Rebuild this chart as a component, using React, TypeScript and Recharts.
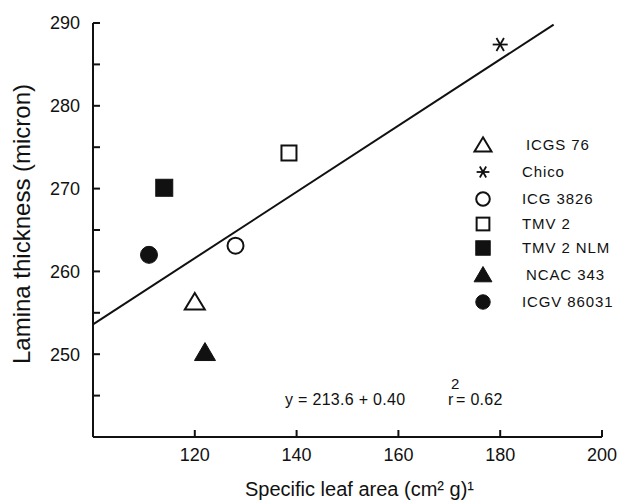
import React from 'react';
import { ScatterChart, Scatter, XAxis, YAxis, ReferenceLine, Legend, Label, Customized } from 'recharts';

const genotypes = ['ICGS 76', 'Chico', 'ICG 3826', 'TMV 2', 'TMV 2 NLM', 'NCAC 343', 'ICGV 86031'];
const specificLeafArea = [120, 180, 128, 138.5, 114, 122, 111];
const laminaThickness = [256.3, 287.4, 263.1, 274.3, 270.1, 250.2, 262];
const markerKinds = ['openTriangle', 'asterisk', 'openCircle', 'openSquare', 'filledSquare', 'filledTriangle', 'filledCircle'];

const xTicks = [120, 140, 160, 180, 200];
const yTicks = [245, 250, 255, 260, 265, 270, 275, 280, 285, 290];
const regressionX = [100, 190.5];
const regressionY = [253.6, 289.8];
const equationText = 'y = 213.6 + 0.40';
const rText = 'r';
const rSup = '2';
const rValueText = '= 0.62';
const xTitle = 'Specific leaf area (cm² g)¹';
const yTitle = 'Lamina thickness (micron)';

const INK = '#111';
const FONT = '"Liberation Sans", Arial, Helvetica, sans-serif';

function Marker({ kind, cx, cy, s = 1 }: { kind: string; cx: number; cy: number; s?: number }) {
  switch (kind) {
    case 'openTriangle':
      return <polygon points={`${cx},${cy - 9 * s} ${cx + 10 * s},${cy + 7.5 * s} ${cx - 10 * s},${cy + 7.5 * s}`} fill="#fff" stroke={INK} strokeWidth={2} />;
    case 'filledTriangle':
      return <polygon points={`${cx},${cy - 10 * s} ${cx + 10.5 * s},${cy + 8 * s} ${cx - 10.5 * s},${cy + 8 * s}`} fill={INK} stroke={INK} strokeWidth={1} />;
    case 'openCircle':
      return <circle cx={cx} cy={cy} r={8 * s} fill="#fff" stroke={INK} strokeWidth={2} />;
    case 'filledCircle':
      return <circle cx={cx} cy={cy} r={8.5 * s} fill={INK} stroke={INK} strokeWidth={1} />;
    case 'openSquare':
      return <rect x={cx - 7.5 * s} y={cy - 7.5 * s} width={15 * s} height={15 * s} fill="#fff" stroke={INK} strokeWidth={2} />;
    case 'filledSquare':
      return <rect x={cx - 8.5 * s} y={cy - 8.5 * s} width={17 * s} height={17 * s} fill={INK} stroke={INK} strokeWidth={1} />;
    case 'asterisk': {
      const r = 7.5 * s;
      const dx = r * 0.5;
      const dy = r * 0.866;
      return (
        <g stroke={INK} strokeWidth={1.8}>
          <line x1={cx - r} y1={cy} x2={cx + r} y2={cy} />
          <line x1={cx - dx} y1={cy - dy} x2={cx + dx} y2={cy + dy} />
          <line x1={cx + dx} y1={cy - dy} x2={cx - dx} y2={cy + dy} />
        </g>
      );
    }
    default:
      return null;
  }
}

const legendRowY = [15, 42, 69, 94, 118, 145, 172];

function LegendBox() {
  return (
    <svg width={156} height={190} style={{ overflow: 'visible' }}>
      {genotypes.map((g, i) => (
        <g key={g}>
          <Marker kind={markerKinds[i]} cx={18} cy={legendRowY[i]} s={0.85} />
          <text x={i === 0 || i === 5 ? 61 : 57} y={legendRowY[i]} dy="0.36em" fontSize={15} fontFamily={FONT} fill={INK} letterSpacing={0.9}>
            {g}
          </text>
        </g>
      ))}
    </svg>
  );
}

function Equation() {
  return (
    <g fontFamily={FONT} fill={INK} fontSize={16}>
      <text x={285} y={405} letterSpacing={0.3}>{equationText}</text>
      <text x={448} y={405}>{rText}</text>
      <text x={451} y={389} fontSize={15}>{rSup}</text>
      <text x={456} y={405} letterSpacing={0.3}>{rValueText}</text>
    </g>
  );
}

const YTick = (props: any) => {
  const v = props.payload.value;
  if (v % 10 !== 0) return <g />;
  return (
    <text x={props.x} y={props.y} dy="0.36em" textAnchor="end" fontSize={18} fontFamily={FONT} fill={INK}>
      {v}
    </text>
  );
};

export default function App() {
  return (
    <div style={{ position: 'absolute', left: 0, top: 0, width: 621, height: 501, background: '#fff' }}>
      <ScatterChart width={621} height={501} margin={{ top: 23, right: 19, bottom: 24, left: 33 }}>
        <XAxis
          type="number"
          dataKey="x"
          domain={[100, 200]}
          ticks={xTicks}
          allowDataOverflow
          axisLine={{ stroke: INK, strokeWidth: 2 }}
          tickLine={{ stroke: INK, strokeWidth: 2 }}
          tickSize={-7}
          tickMargin={18}
          height={40}
          tick={{ fontSize: 18, fill: INK, fontFamily: FONT }}
        >
          <Label
            content={(p: any) => {
              const vb = p.viewBox;
              return (
                <text x={vb.x + vb.width / 2 + 12} y={vb.y + vb.height + 19} textAnchor="middle" fontSize={20} fontFamily={FONT} fill={INK}>
                  {xTitle}
                </text>
              );
            }}
          />
        </XAxis>
        <YAxis
          type="number"
          dataKey="y"
          domain={[240, 290]}
          ticks={yTicks}
          allowDataOverflow
          axisLine={{ stroke: INK, strokeWidth: 2 }}
          tickLine={{ stroke: INK, strokeWidth: 2 }}
          tickSize={-7}
          tickMargin={20}
          width={60}
          tick={YTick}
        >
          <Label
            content={(p: any) => {
              const vb = p.viewBox;
              const cx = vb.x - 3;
              const cy = vb.y + vb.height / 2 - 6;
              return (
                <text x={cx} y={cy} textAnchor="middle" transform={`rotate(-90, ${cx}, ${cy})`} fontSize={24} fontFamily={FONT} fill={INK}>
                  {yTitle}
                </text>
              );
            }}
          />
        </YAxis>
        <ReferenceLine
          segment={[
            { x: regressionX[0], y: regressionY[0] },
            { x: regressionX[1], y: regressionY[1] },
          ]}
          stroke={INK}
          strokeWidth={2}
        />
        {genotypes.map((g, i) => (
          <Scatter
            key={g}
            name={g}
            data={[{ x: specificLeafArea[i], y: laminaThickness[i] }]}
            isAnimationActive={false}
            shape={(p: any) => <Marker kind={markerKinds[i]} cx={p.cx} cy={p.cy} />}
          />
        ))}
        <Legend
          layout="horizontal"
          verticalAlign="middle"
          align="center"
          content={() => <LegendBox />}
          wrapperStyle={{ left: 465, top: 130, width: 156, height: 190 }}
        />
        <Customized component={Equation} />
      </ScatterChart>
    </div>
  );
}
